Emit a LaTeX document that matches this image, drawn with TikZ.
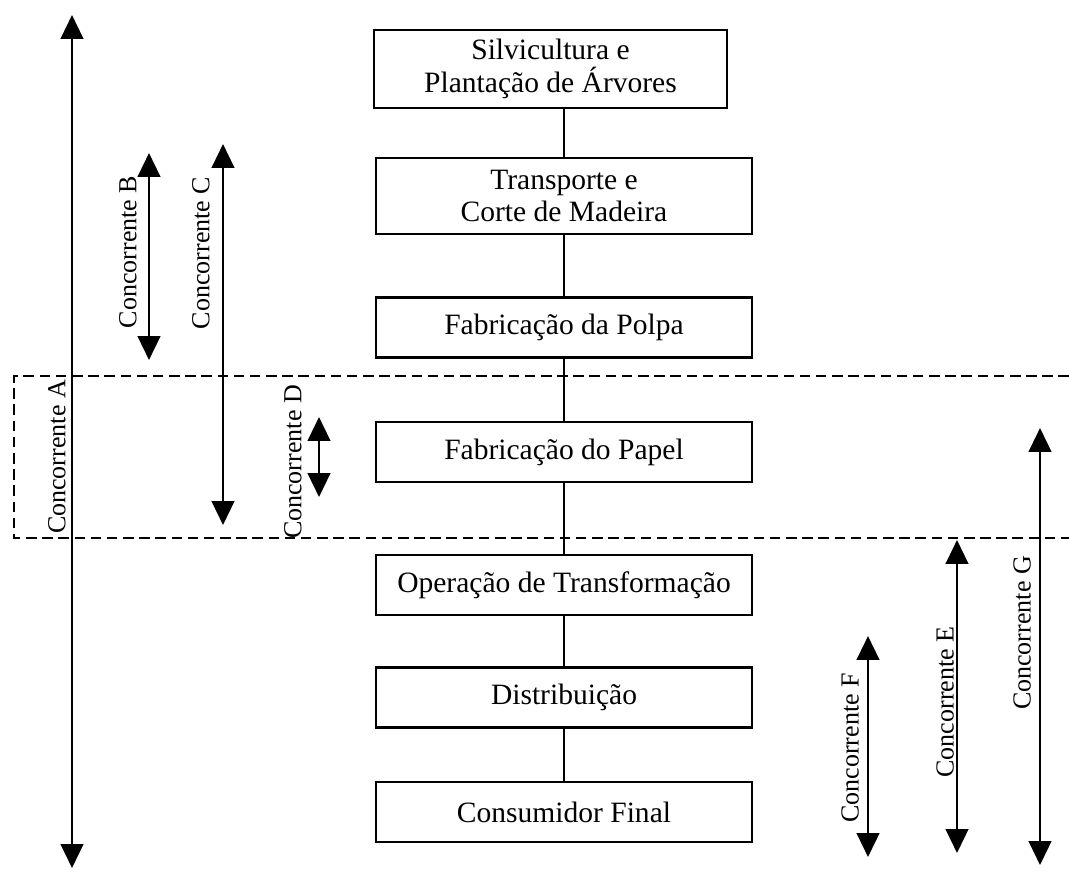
\documentclass[tikz,border=0pt]{standalone}
\usepackage{fontspec}
\setmainfont{Liberation Serif}
\usetikzlibrary{arrows.meta, positioning}

\begin{document}
\begin{tikzpicture}[
    x=0.025cm, y=-0.025cm,
    stagebox/.style={rectangle, draw=black, line width=1.6pt, fill=white,
        minimum width=9.4cm, minimum height=1.5cm, align=center, inner sep=2pt,
        font=\fontsize{21}{23}\selectfont},
    conline/.style={draw=black, line width=1.3pt},
    rival/.style={{Triangle[width=16pt,length=17pt]}-{Triangle[width=16pt,length=17pt]}, line width=1.9pt},
    rivallabel/.style={rotate=90, inner sep=0pt, font=\fontsize{18.5}{20}\selectfont},
    zone/.style={draw=black, line width=1.6pt, dash pattern=on 7.5pt off 4pt},
]
\useasboundingbox (0,0) rectangle (1069,870);

% dashed band round the paper stage
\coordinate (zoneTR) at (1069,376);
\coordinate (zoneTL) at (14,376);
\coordinate (zoneBL) at (14,538);
\coordinate (zoneBR) at (1069,538);
\draw[zone] (zoneTR) -- (zoneTL) -- (zoneBL) -- (zoneBR);

% chain of stages
\node[stagebox, minimum width=8.825cm, minimum height=1.95cm] (silv) at (550.5,69) {Silvicultura e\\Plantação de Árvores};
\node[stagebox, minimum height=1.9cm] (transp) at (564,196) {Transporte e\\Corte de Madeira};
\node[stagebox] (polpa) at (564,327.5) {Fabricação da Polpa};
\node[stagebox] (papel) at (564,452) {Fabricação do Papel};
\node[stagebox] (transf) at (564,585) {Operação de Transformação};
\node[stagebox] (distr) at (564,697.5) {Distribuição};
\node[stagebox] (consum) at (564,812) {Consumidor Final};

\draw[conline] (transp.north) -- (transp.north |- silv.south);
\draw[conline] (transp) -- (polpa);
\draw[conline] (polpa) -- (papel);
\draw[conline] (papel) -- (transf);
\draw[conline] (transf) -- (distr);
\draw[conline] (distr) -- (consum);

% competitors
\coordinate (aTop) at (72,15);   \coordinate (aBot) at (72,868);
\coordinate (bTop) at (149,153); \coordinate (bBot) at (149,360);
\coordinate (cTop) at (223,144); \coordinate (cBot) at (223,525);
\coordinate (dTop) at (319,417); \coordinate (dBot) at (319,497);
\coordinate (eTop) at (957,540); \coordinate (eBot) at (957,853);
\coordinate (fTop) at (868,636); \coordinate (fBot) at (868,857);
\coordinate (gTop) at (1040,428); \coordinate (gBot) at (1040,865);

\draw[rival] (aTop) -- (aBot);
\draw[rival] (bTop) -- (bBot);
\draw[rival] (cTop) -- (cBot);
\draw[rival] (dTop) -- (dBot);
\draw[rival] (eTop) -- (eBot);
\draw[rival] (fTop) -- (fBot);
\draw[rival] (gTop) -- (gBot);

\node[rivallabel] (labA) at (57,457) {Concorrente A};
\node[rivallabel] (labB) at (128,252) {Concorrente B};
\node[rivallabel] (labC) at (201,253) {Concorrente C};
\node[rivallabel] (labD) at (293,462) {Concorrente D};
\node[rivallabel] (labE) at (945,702) {Concorrente E};
\node[rivallabel] (labF) at (850,748) {Concorrente F};
\node[rivallabel] (labG) at (1022,633) {Concorrente G};
\end{tikzpicture}
\end{document}
